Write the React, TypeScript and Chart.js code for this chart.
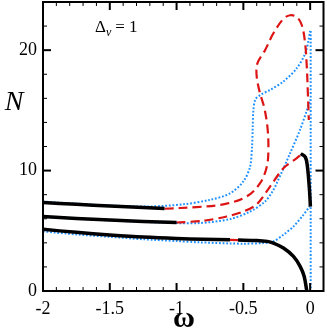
import React, { useEffect, useRef } from "react";
import { Chart, registerables } from "chart.js";

Chart.register(...registerables);

// ---- data ----
const xMajorTicks = [-2, -1.5, -1, -0.5, 0];
const xMinorTicks = [-1.9, -1.8, -1.7, -1.6, -1.4, -1.3, -1.2, -1.1, -0.9, -0.8, -0.7, -0.6, -0.4, -0.3, -0.2, -0.1];
const yMajorTicks = [0, 10, 20];
const yMinorTicks = [2, 4, 6, 8, 12, 14, 16, 18, 22];

const blackTopX = [-2, -1.75, -1.5, -1.25, -1.09];
const blackTopY = [7.35, 7.2, 7.05, 6.93, 6.85];

const blackMidX = [-2, -1.75, -1.5, -1.25, -1.0];
const blackMidY = [6.19, 6.03, 5.9, 5.78, 5.69];

const blackLowAX = [-2, -1.75, -1.5, -1.25, -1.0, -0.8, -0.6];
const blackLowAY = [5.12, 4.87, 4.66, 4.48, 4.36, 4.3, 4.25];
const blackLowBX = [-0.54, -0.4, -0.32, -0.275, -0.2, -0.125, -0.075, -0.045, -0.025];
const blackLowBY = [4.23, 4.2, 4.12, 3.98, 3.57, 2.88, 2.05, 1.22, 0.0];

const blackHookX = [-0.07, -0.035, -0.02, -0.005, 0.002];
const blackHookY = [11.4, 11.1, 10.3, 8.4, 7.0];

const redTopX = [-1.09, -0.85, -0.65, -0.475, -0.375, -0.325, -0.3125, -0.32, -0.345, -0.375, -0.4, -0.395, -0.3375, -0.275, -0.2, -0.15, -0.1, -0.062, -0.0375, -0.025, -0.017, -0.01];
const redTopY = [6.83, 6.97, 7.2, 7.85, 8.95, 10.3, 11.7, 13.65, 15.3, 16.4, 17.8, 18.9, 20.0, 21.4, 22.6, 22.9, 22.75, 22.07, 20.55, 18.6, 16.4, 14.2];

const redMidX = [-1.0, -0.8, -0.625, -0.5, -0.4, -0.3, -0.2, -0.1, -0.07];
const redMidY = [5.69, 5.83, 6.19, 6.6, 7.2, 8.67, 10.2, 11.03, 11.3];

const redLowX = [-0.6, -0.54];
const redLowY = [4.25, 4.23];

const blueTopX = [-2, -1.75, -1.5, -1.2, -0.95, -0.75, -0.6, -0.5, -0.45, -0.435, -0.43, -0.425, -0.41, -0.37, -0.3, -0.2, -0.1, -0.0375, -0.0125, 0.0];
const blueTopY = [7.42, 7.25, 7.1, 7.02, 7.2, 7.57, 8.1, 9.1, 10.3, 12.0, 13.5, 15.0, 15.9, 16.3, 16.7, 17.4, 18.5, 19.7, 20.8, 21.6];

const blueMidX = [-2, -1.75, -1.5, -1.25, -1.0, -0.825, -0.6, -0.45, -0.3375, -0.28, -0.25, -0.15, -0.075, -0.025, 0.0];
const blueMidY = [6.15, 6.0, 5.86, 5.74, 5.64, 5.64, 5.97, 6.6, 7.43, 8.3, 8.95, 11.44, 13.4, 15.0, 15.9];

const blueLowX = [-2, -1.75, -1.5, -1.25, -1.0, -0.825, -0.6, -0.5, -0.35, -0.275, -0.2, -0.125, -0.05, -0.005];
const blueLowY = [4.95, 4.7, 4.5, 4.3, 4.15, 4.04, 3.95, 3.93, 3.98, 4.12, 4.67, 5.36, 6.33, 7.0];

const blueVertX = [0.004, 0.004];
const blueVertY = [21.6, 0];

const BLACK = "#000000";
const RED = "rgb(220,20,20)";
const BLUE = "rgb(30,144,255)";

const pts = (xs: number[], ys: number[]) => xs.map((x, i) => ({ x, y: ys[i] }));

function solid(xs: number[], ys: number[], color: string, width: number, tension = 0.3) {
  return { data: pts(xs, ys), borderColor: color, borderWidth: width, showLine: true, pointRadius: 0, tension, fill: false } as any;
}
function dashed(xs: number[], ys: number[], color: string, width: number, dash: number[], tension = 0.3) {
  return { ...solid(xs, ys, color, width, tension), borderDash: dash };
}

const SERIF = "'Liberation Serif', 'DejaVu Serif', serif";

const decor = {
  id: "decor",
  afterDraw(chart: any) {
    const { ctx, chartArea: a, scales } = chart;
    const x = scales.x;
    const y = scales.y;
    ctx.save();
    ctx.strokeStyle = "#000";
    const tick = (x1: number, y1: number, x2: number, y2: number, w: number) => {
      ctx.lineWidth = w;
      ctx.beginPath();
      ctx.moveTo(x1, y1);
      ctx.lineTo(x2, y2);
      ctx.stroke();
    };
    xMinorTicks.forEach((v) => {
      const p = x.getPixelForValue(v);
      tick(p, a.bottom, p, a.bottom - 4, 1);
      tick(p, a.top, p, a.top + 4, 1);
    });
    xMajorTicks.forEach((v) => {
      const p = x.getPixelForValue(v);
      tick(p, a.bottom, p, a.bottom - 8, 2);
      tick(p, a.top, p, a.top + 8, 2);
    });
    yMinorTicks.forEach((v) => {
      const p = y.getPixelForValue(v);
      tick(a.left, p, a.left + 4, p, 1);
      tick(a.right, p, a.right - 4, p, 1);
    });
    yMajorTicks.forEach((v) => {
      const p = y.getPixelForValue(v);
      tick(a.left, p, a.left + 8, p, 2);
      tick(a.right, p, a.right - 8, p, 2);
    });
    ctx.lineWidth = 2;
    ctx.strokeRect(a.left, a.top, a.right - a.left, a.bottom - a.top);

    ctx.fillStyle = "#000";
    ctx.textBaseline = "alphabetic";
    // axis titles
    ctx.textAlign = "center";
    ctx.font = `italic 28px ${SERIF}`;
    ctx.fillText("N", 14, 110);
    ctx.font = `bold 30px ${SERIF}`;
    ctx.fillText("ω", 184, 327);
    // annotation
    ctx.textAlign = "left";
    ctx.font = `17px ${SERIF}`;
    ctx.fillText("Δ", 95, 32);
    const dw = ctx.measureText("Δ").width;
    ctx.font = `italic 12px ${SERIF}`;
    ctx.fillText("ν", 95 + dw, 36);
    const nw = ctx.measureText("ν").width;
    ctx.font = `17px ${SERIF}`;
    ctx.fillText("= 1", 95 + dw + nw + 4, 32);
    ctx.restore();
  },
};

export default function App() {
  const ref = useRef<HTMLCanvasElement>(null);
  useEffect(() => {
    if (!ref.current) return;
    const datasets = [
      solid(blackTopX, blackTopY, BLACK, 3.5),
      solid(blackMidX, blackMidY, BLACK, 3.5),
      solid(blackLowAX, blackLowAY, BLACK, 3.5),
      solid(blackLowBX, blackLowBY, BLACK, 3.5),
      solid(blackHookX, blackHookY, BLACK, 3.5, 0.35),
      dashed(redTopX, redTopY, RED, 2.2, [9, 5], 0.35),
      dashed(redMidX, redMidY, RED, 2.2, [9, 5]),
      solid(redLowX, redLowY, RED, 2.2, 0),
      dashed(blueTopX, blueTopY, BLUE, 2, [1.8, 1.8], 0.3),
      dashed(blueMidX, blueMidY, BLUE, 2, [1.8, 1.8]),
      dashed(blueLowX, blueLowY, BLUE, 2, [1.8, 1.8]),
      dashed(blueVertX, blueVertY, BLUE, 2, [1.8, 1.8], 0),
    ];
    const chart = new Chart(ref.current, {
      type: "scatter",
      data: { datasets },
      options: {
        animation: false,
        responsive: false,
        devicePixelRatio: 1,
        layout: { padding: { top: 2, right: 3.5, left: 0, bottom: 0 } },
        plugins: { legend: { display: false }, tooltip: { enabled: false } },
        scales: {
          x: {
            type: "linear",
            min: -2,
            max: 0.1,
            afterBuildTicks: (s: any) => {
              s.ticks = xMajorTicks.map((v) => ({ value: v }));
            },
            afterFit: (s: any) => {
              s.height = 39;
              s.paddingLeft = 0;
              s.paddingRight = 0;
            },
            grid: { display: false, drawTicks: false },
            border: { display: false },
            ticks: {
              color: "#000",
              font: { family: SERIF, size: 18 },
              maxRotation: 0,
              autoSkip: false,
              padding: 7,
              callback: (v: any) => String(v),
            },
          },
          y: {
            type: "linear",
            min: 0,
            max: 24,
            afterBuildTicks: (s: any) => {
              s.ticks = yMajorTicks.map((v) => ({ value: v }));
            },
            afterFit: (s: any) => {
              s.width = 43;
              s.paddingTop = 0;
              s.paddingBottom = 0;
            },
            grid: { display: false, drawTicks: false },
            border: { display: false },
            ticks: {
              color: "#000",
              font: { family: SERIF, size: 18 },
              padding: 6,
              autoSkip: false,
              callback: (v: any) => String(v),
            },
          },
        },
      },
      plugins: [decor],
    } as any);
    return () => chart.destroy();
  }, []);
  return (
    <div style={{ position: "absolute", left: 0, top: 0, width: 327, height: 330, background: "#fff" }}>
      <canvas ref={ref} width={327} height={330} />
    </div>
  );
}
